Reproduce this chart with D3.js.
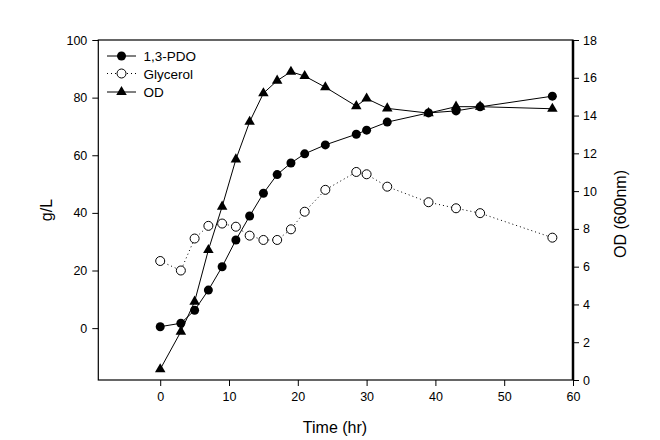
<!DOCTYPE html>
<html><head><meta charset="utf-8">
<script src="https://cdn.jsdelivr.net/npm/d3@7"></script>
<style>body{margin:0;background:#fff;} text{font-family:"Liberation Sans",Arial,sans-serif;}</style>
</head><body><svg id="c" width="660" height="440"></svg>
<script>
const time = [0,3,5,7,9,11,13,15,17,19,21,24,28.5,30,33,39,43,46.5,57];
const pdo = [0.5,1.7,6.2,13.2,21.3,30.6,38.9,46.8,53.3,57.3,60.5,63.6,67.3,68.7,71.5,74.7,75.4,76.8,80.5];
const glycerol = [23.3,20.0,31.1,35.5,36.3,35.2,32.1,30.6,30.6,34.3,40.4,48.0,54.2,53.4,49.1,43.7,41.6,39.9,31.4];
const od = [0.57,2.56,4.15,6.88,9.18,11.68,13.67,15.18,15.85,16.32,16.09,15.5,14.5,14.9,14.38,14.13,14.47,14.47,14.36];
const xTicks = [0,10,20,30,40,50,60];
const yLeftTicks = [0,20,40,60,80,100];
const yRightTicks = [0,2,4,6,8,10,12,14,16,18];

const svg = d3.select("#c");
const L=98.3, R=573, T=40, B=380;
const x = d3.scaleLinear().domain([-9,60]).range([L,R]);
const yL = d3.scaleLinear().domain([-18,100]).range([B,T]);
const yR = d3.scaleLinear().domain([0,18]).range([B,T]);

// frame
svg.append("rect").attr("x",L).attr("y",T).attr("width",R-L).attr("height",B-T)
  .attr("fill","none").attr("stroke","#000").attr("stroke-width",1.2);

const ax = (g)=>{g.select(".domain").remove(); g.selectAll("text").attr("font-size",12.5).attr("fill","#000").style("font-family","Liberation Sans, Arial, sans-serif"); g.selectAll("line").attr("stroke","#000");};
svg.append("g").attr("transform",`translate(0,${B})`)
  .call(d3.axisBottom(x).tickValues(xTicks).tickSizeOuter(0).tickSize(6).tickPadding(6)).call(ax);
svg.append("g").attr("transform",`translate(${L},0)`)
  .call(d3.axisLeft(yL).tickValues(yLeftTicks).tickSizeOuter(0).tickSize(6).tickPadding(5)).call(ax);
svg.append("g").attr("transform",`translate(${R},0)`)
  .call(d3.axisRight(yR).tickValues(yRightTicks).tickSizeOuter(0).tickSize(6).tickPadding(4)).call(ax);
svg.append("line").attr("x1",R).attr("x2",R).attr("y1",T).attr("y2",B).attr("stroke","#000").attr("stroke-width",2.5);

// titles
svg.append("text").attr("x",335).attr("y",433).attr("text-anchor","middle").attr("font-size",16).text("Time (hr)");
svg.append("text").attr("transform","translate(52,210) rotate(-90)").attr("text-anchor","middle").attr("font-size",16).text("g/L");
svg.append("text").attr("transform","translate(626,214) rotate(-90)").attr("text-anchor","middle").attr("font-size",16).text("OD (600nm)");

const lineL = d3.line().x((d,i)=>x(time[i])).y(d=>yL(d));
const lineR = d3.line().x((d,i)=>x(time[i])).y(d=>yR(d));
const tri = d3.symbol().type(d3.symbolTriangle).size(48);

// lines
svg.append("path").attr("d",lineL(glycerol)).attr("fill","none").attr("stroke","#000").attr("stroke-width",1).attr("stroke-dasharray","1,3");
svg.append("path").attr("d",lineR(od)).attr("fill","none").attr("stroke","#000").attr("stroke-width",1);
svg.append("path").attr("d",lineL(pdo)).attr("fill","none").attr("stroke","#000").attr("stroke-width",1);

// markers
svg.append("g").selectAll("circle").data(glycerol).join("circle")
  .attr("cx",(d,i)=>x(time[i])).attr("cy",d=>yL(d)).attr("r",4.5).attr("fill","#fff").attr("stroke","#000").attr("stroke-width",1);
svg.append("g").selectAll("path").data(od).join("path")
  .attr("transform",(d,i)=>`translate(${x(time[i])},${yR(d)})`).attr("d",tri).attr("fill","#000");
svg.append("g").selectAll("circle").data(pdo).join("circle")
  .attr("cx",(d,i)=>x(time[i])).attr("cy",d=>yL(d)).attr("r",4.5).attr("fill","#000");

// legend
const lg = svg.append("g");
const rows = [{n:"1,3-PDO",y:56,k:"pdo"},{n:"Glycerol",y:73.5,k:"gly"},{n:"OD",y:92,k:"od"}];
rows.forEach(r=>{
  const ln = lg.append("line").attr("x1",107).attr("x2",136).attr("y1",r.y).attr("y2",r.y).attr("stroke","#000").attr("stroke-width",1);
  if(r.k==="gly") ln.attr("stroke-dasharray","1,3");
  if(r.k==="pdo") lg.append("circle").attr("cx",121.5).attr("cy",r.y).attr("r",4.5).attr("fill","#000");
  if(r.k==="gly") lg.append("circle").attr("cx",121.5).attr("cy",r.y).attr("r",4.5).attr("fill","#fff").attr("stroke","#000");
  if(r.k==="od") lg.append("path").attr("transform",`translate(121.5,${r.y})`).attr("d",tri).attr("fill","#000");
  lg.append("text").attr("x",143.5).attr("y",r.y+5).attr("font-size",13.5).text(r.n);
});
</script></body></html>
